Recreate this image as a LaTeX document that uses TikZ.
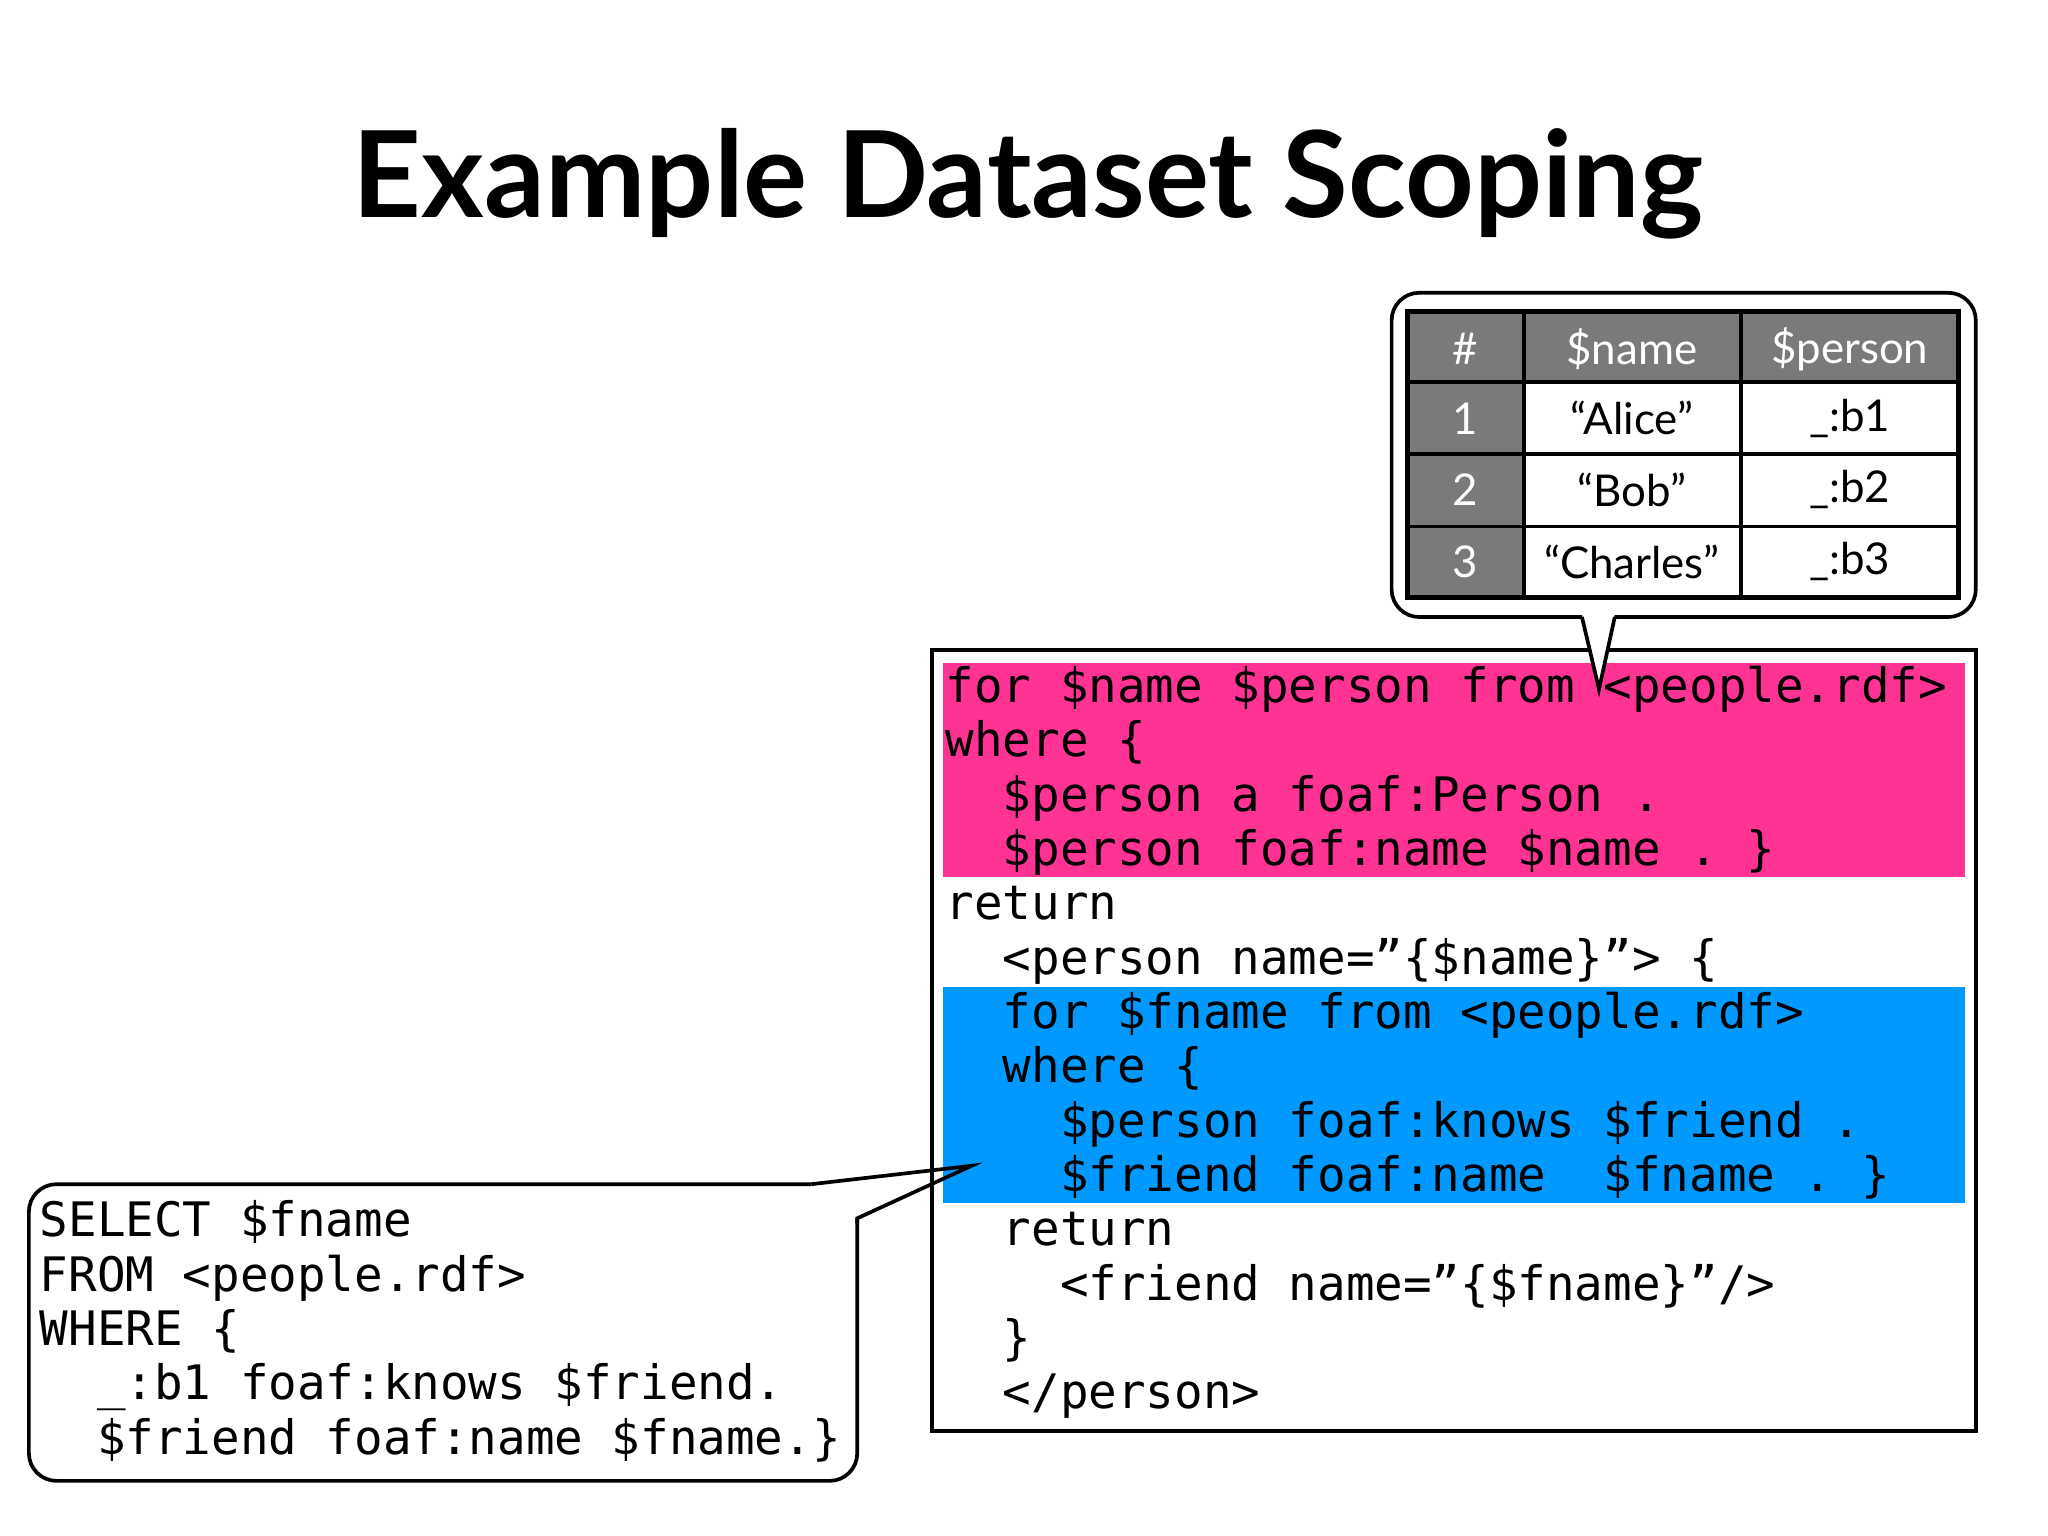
\documentclass[tikz,border=0pt]{standalone}
\usepackage{fontspec}
\setmainfont{Lato}
\setmonofont{DejaVu Sans Mono}
\usetikzlibrary{calc}
\definecolor{pinkhl}{HTML}{FF3393}
\definecolor{bluehl}{HTML}{0099FF}
\definecolor{hdrgray}{HTML}{7A7A7A}
\begin{document}
\begin{tikzpicture}[x=0.02cm,y=-0.02cm,
    codeline/.style={anchor=base west,inner sep=0pt,font=\ttfamily\fontsize{20.6}{24}\selectfont},
    cell/.style={inner sep=0pt,font=\fontsize{19}{22}\selectfont},
    hdr/.style={cell,text=white},
    frame/.style={line width=1.6pt}]

				% Page frame
				\useasboundingbox (0,0) rectangle (1560,1170);

				% Title
				\node[font=\bfseries\fontsize{52}{60}\selectfont] (title) at (783,140) {Example Dataset Scoping};

				% Code box with highlighted blocks
				\fill[pinkhl] (718,505) rectangle (1497,668);
				\fill[bluehl] (718,752) rectangle (1497,916);
				\draw[frame] (710,495) rectangle (1505,1090);
				\foreach \txt [count=\i] in {
					{for \$name \$person from <people.rdf>},
					{where \{},
					{\ \ \$person a foaf:Person .},
					{\ \ \$person foaf:name \$name . \}},
					{return},
					{\ \ <person name=”\{\$name\}”> \{},
					{\ \ for \$fname from <people.rdf>},
					{\ \ where \{},
					{\ \ \ \ \$person foaf:knows \$friend .},
					{\ \ \ \ \$friend foaf:name \ \$fname . \}},
					{\ \ return},
					{\ \ \ \ <friend name=”\{\$fname\}”/>},
					{\ \ \}},
					{\ \ </person>}}
					\node[codeline] (l\i) at (720,{535+41.4*(\i-1)}) {\txt};

				% Result table callout
				\draw[frame,rounded corners=12pt] (1060,223) rectangle (1505,470);
				\coordinate (tip) at (1218,525);
				\fill[white] (1205,468) -- (tip) -- (1230,468) -- cycle;
				\draw[frame,line join=miter] (1205,470) -- (tip) -- (1230,470);
				\fill[hdrgray] (1072,237) rectangle (1492,291);
				\fill[hdrgray] (1072,291) rectangle (1161,455);
				\draw[line width=2.2pt] (1072,237) rectangle (1492,455);
				\foreach \xx in {1161,1326} \draw[frame] (\xx,237) -- (\xx,455);
				\foreach \yy in {291,346,401} \draw[frame] (1072,\yy) -- (1492,\yy);
				\node[hdr] (h1) at (1116,266) {\#};
				\node[hdr] (h2) at (1243,266) {\$name};
				\node[hdr] (h3) at (1409,266) {\$person};
				\foreach \n/\nm/\p [count=\r] in {1/“Alice”/\_:b1,2/“Bob”/\_:b2,3/“Charles”/\_:b3} {
					\node[hdr] (n\r) at (1116,{264+54.6*\r}) {\n};
					\node[cell] (m\r) at (1243,{264+54.6*\r}) {\nm};
					\node[cell] (p\r) at (1409,{264+54.6*\r}) {\p};
				}

				% SPARQL callout
				\draw[frame,rounded corners=12pt] (22,902) rectangle (653,1128);
				\coordinate (tip2) at (740,888);
				\fill[white] (618,903.5) -- (618,885) -- (670,885) -- (670,928) -- (651.5,928) -- cycle;
				\draw[frame,line join=miter] (618,902) -- (tip2) -- (653,928) -- (653,932);

				\foreach \txt [count=\i] in {
					{SELECT \$fname},
					{FROM <people.rdf>},
					{WHERE \{},
					{\ \ \_:b1 foaf:knows \$friend.},
					{\ \ \$friend foaf:name \$fname.\}}}
					\node[codeline] (s\i) at (30,{942+41.4*(\i-1)}) {\txt};

			\end{tikzpicture}
\end{document}
